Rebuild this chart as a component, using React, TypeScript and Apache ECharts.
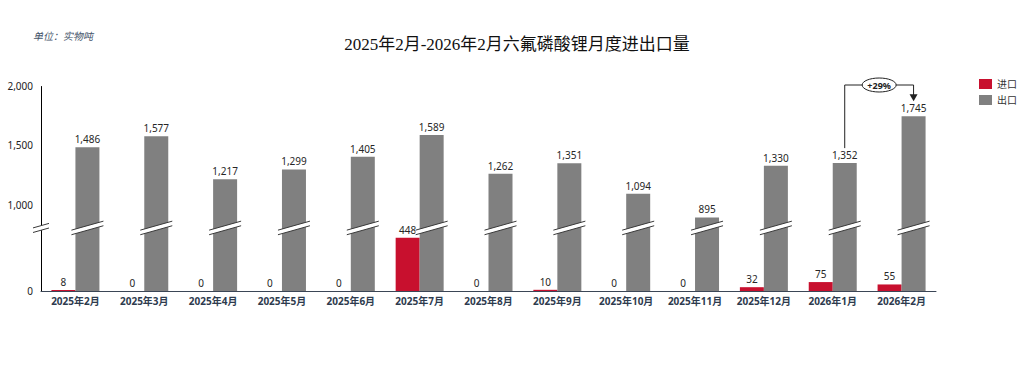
import React, { useEffect, useRef } from 'react';
import * as echarts from 'echarts';

const categories = [
  '2025年2月', '2025年3月', '2025年4月', '2025年5月', '2025年6月', '2025年7月', '2025年8月',
  '2025年9月', '2025年10月', '2025年11月', '2025年12月', '2026年1月', '2026年2月',
];
const importValues = [8, 0, 0, 0, 0, 448, 0, 10, 0, 0, 32, 75, 55];
const exportValues = [1486, 1577, 1217, 1299, 1405, 1589, 1262, 1351, 1094, 895, 1330, 1352, 1745];
const yTickLabels = [0, 1000, 1500, 2000];
const breakStart = 530;
const breakEnd = 807;
const growthLabel = '+29%';
const seriesNames = ['进口', '出口'];
const titleText = '2025年2月-2026年2月六氟磷酸锂月度进出口量';
const unitText = '单位：实物吨';

const BAR_W = 24;
const FONT = "'Noto Sans', 'Noto Sans CJK SC', sans-serif";
const fmt = (v: number) => v.toLocaleString('en-US');

export default function App() {
  const ref = useRef<HTMLDivElement>(null);
  useEffect(() => {
    document.body.style.margin = '0';
    const chart = echarts.init(ref.current!, undefined, { renderer: 'svg' });
    const option: any = {
      animation: false,
      backgroundColor: '#fff',
      textStyle: { fontFamily: FONT },
      grid: { left: 41, right: 88, top: 86, bottom: 76, containLabel: false },
      legend: {
        data: seriesNames,
        orient: 'vertical',
        left: 974,
        top: 74,
        itemWidth: 13,
        itemHeight: 10,
        itemGap: 6,
        icon: 'rect',
        textStyle: { fontSize: 10, color: '#333', fontFamily: FONT },
      },
      xAxis: {
        type: 'category',
        data: categories,
        axisLine: { show: true, lineStyle: { color: '#3b4656', width: 1 } },
        axisTick: { show: false },
        axisLabel: { fontSize: 10, fontWeight: 'bold', color: '#2e3b4e', margin: 5, interval: 0, fontFamily: FONT },
      },
      yAxis: {
        type: 'value',
        min: 0,
        max: 2000,
        interval: 500,
        breaks: [{ start: breakStart, end: breakEnd, gap: 0 }],
        breakArea: { show: false },
        axisLine: { show: true, lineStyle: { color: '#000', width: 1 } },
        axisTick: { show: false },
        splitLine: { show: false },
        axisLabel: {
          fontSize: 10,
          color: '#222',
          margin: 8,
          fontFamily: FONT,
          customValues: yTickLabels,
          formatter: (v: number) => (yTickLabels.includes(v) ? fmt(v) : ''),
        },
      },
      series: [
        {
          name: seriesNames[0],
          type: 'bar',
          data: importValues,
          barWidth: BAR_W,
          barGap: 0,
          itemStyle: { color: '#c8102e' },
          label: { show: true, position: 'top', fontSize: 10, color: '#262626', distance: 3, formatter: (p: any) => fmt(p.value) },
        },
        {
          name: seriesNames[1],
          type: 'bar',
          data: exportValues,
          barWidth: BAR_W,
          barGap: 0,
          itemStyle: { color: '#808080' },
          label: { show: true, position: 'top', fontSize: 10, color: '#262626', distance: 3, formatter: (p: any) => fmt(p.value) },
        },
        {
          type: 'custom',
          silent: true,
          clip: false,
          z: 5,
          encode: { x: 0, y: 1 },
          data: categories.map((_, i) => [i, breakStart]),
          renderItem: (params: any, api: any) => {
            const idx = api.value(0);
            const v = api.value(1);
            const [cx0, cy] = api.coord([idx, v]);
            const band = api.size([1, 0])[0];
            const children: any[] = [];
            const addMark = (cx: number, half: number, rise: number) => {
              const t = 2.3;
              const x1 = cx - half, x2 = cx + half;
              const y1 = cy + rise / 2, y2 = cy - rise / 2;
              children.push({
                type: 'polygon',
                shape: { points: [[x1, y1 - t], [x2, y2 - t], [x2, y2 + t], [x1, y1 + t]] },
                style: { fill: '#fff' },
              });
              children.push({ type: 'line', shape: { x1, y1: y1 - t, x2, y2: y2 - t }, style: { stroke: '#3a3a3a', lineWidth: 1 } });
              children.push({ type: 'line', shape: { x1, y1: y1 + t, x2, y2: y2 + t }, style: { stroke: '#3a3a3a', lineWidth: 1 } });
            };
            addMark(cx0 + BAR_W / 2, 16, 9);
            if (params.dataIndex === 0) addMark(cx0 - band / 2, 8, 4.5);
            return { type: 'group', children };
          },
        },
      ],
    };
    chart.setOption(option);

    const [xa, ya] = chart.convertToPixel({ gridIndex: 0 }, [11, exportValues[11]]) as number[];
    const [xb, yb] = chart.convertToPixel({ gridIndex: 0 }, [12, exportValues[12]]) as number[];
    const [, yTop] = chart.convertToPixel({ gridIndex: 0 }, [0, 2000]) as number[];
    const ax = xa + BAR_W / 2;
    const bx = xb + BAR_W / 2;
    const top = yTop - 1;
    const startY = ya - 15;
    const endY = yb - 15;
    const midX = (ax + bx) / 2;
    const stroke = '#222';

    chart.setOption({
      graphic: [
        {
          type: 'text',
          left: 33,
          top: 31,
          style: { text: unitText, fontSize: 10, fontStyle: 'italic', fill: '#44546a', fontFamily: FONT },
        },
        {
          type: 'text',
          x: 517,
          y: 44,
          style: {
            text: titleText,
            fontSize: 17,
            fill: '#111',
            align: 'center',
            verticalAlign: 'middle',
            fontFamily: "'Liberation Serif', 'Noto Sans CJK SC', serif",
          },
        },
        {
          type: 'polyline',
          shape: { points: [[ax, startY], [ax, top], [bx, top], [bx, endY - 6]] },
          style: { stroke, lineWidth: 1, fill: null },
        },
        {
          type: 'polygon',
          shape: { points: [[bx - 4, endY - 7], [bx + 4, endY - 7], [bx, endY]] },
          style: { fill: stroke },
        },
        {
          type: 'ellipse',
          shape: { cx: midX, cy: top, rx: 17, ry: 7 },
          style: { fill: '#fff', stroke, lineWidth: 1 },
        },
        {
          type: 'text',
          x: midX,
          y: top,
          style: { text: growthLabel, fontSize: 9, fontWeight: 'bold', fill: '#222', align: 'center', verticalAlign: 'middle', fontFamily: FONT },
        },
      ],
    });

    return () => chart.dispose();
  }, []);
  return <div ref={ref} style={{ position: 'fixed', left: 0, top: 0, width: 1024, height: 367 }} />;
}
